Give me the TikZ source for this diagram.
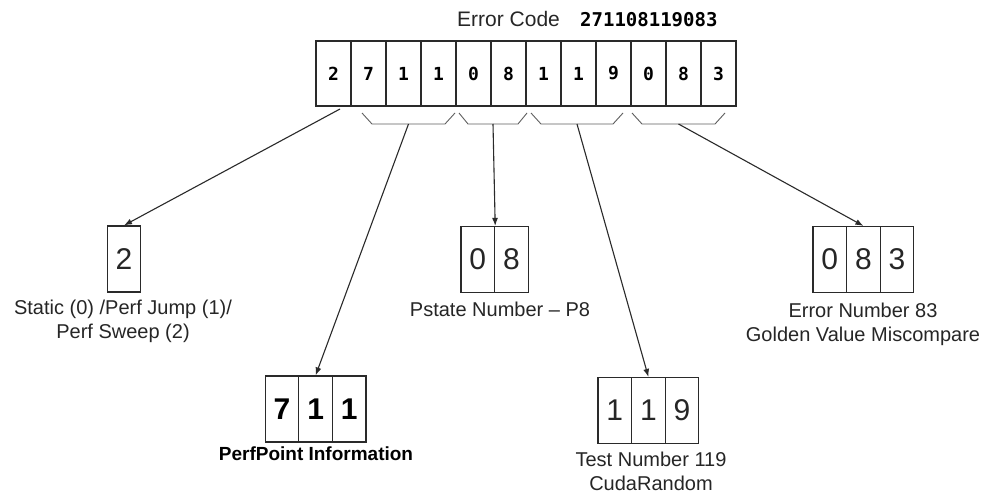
\documentclass[tikz,border=0pt]{standalone}
\usepackage{fontspec}
\setmainfont{Liberation Sans}
\newfontfamily\codefont{DejaVu Sans Mono}
\usetikzlibrary{arrows.meta}
\definecolor{linec}{HTML}{2A2A2A}
\definecolor{textc}{HTML}{262626}
\begin{document}
\begin{tikzpicture}[x=1pt,y=-1pt,
  topcell/.style={draw=linec, line width=1.2pt, minimum width=35pt, minimum height=65pt, inner sep=0pt, text=black, font=\codefont\bfseries\fontsize{18}{18}\selectfont},
  cell/.style={draw=linec, line width=1.2pt, minimum width=33.6pt, minimum height=66pt, inner sep=0pt, text=textc, font=\fontsize{30}{30}\selectfont},
  boldcell/.style={cell, font=\bfseries\fontsize{30}{30}\selectfont, text=black},
  lbl/.style={font=\fontsize{20}{24}\selectfont, align=center, text=textc, inner sep=0pt},
  conn/.style={draw=linec, line width=1.1pt, -{Latex[length=8pt,width=6pt]}},
  bracket/.style={draw=linec!75, line width=0.9pt}
]
\useasboundingbox[fill=white] (0,0) rectangle (991,495);

% title
\node[anchor=base west, inner sep=0pt, text=textc, font=\fontsize{21}{21}\selectfont] (title) at (457,27) {Error Code};
\node[anchor=base west, inner sep=0pt, text=black, font=\codefont\bfseries\fontsize{19}{19}\selectfont] (code) at (580,27) {271108119083};

% top row
\foreach \d [count=\i] in {2,7,1,1,0,8,1,1,9,0,8,3}
  \node[topcell] (c\i) at ({333.5+35*(\i-1)},73.5) {\d};

% brackets
\draw[bracket] (362,113) -- (372,124) -- (445,124) -- (455,113);
\draw[bracket] (459,113) -- (468,124) -- (518,124) -- (527,113);
\draw[bracket] (531,113) -- (541,124) -- (613,124) -- (623,113);
\draw[bracket] (632,113) -- (642,124) -- (715,124) -- (725,113);
\coordinate (br1) at (408.5,124);
\coordinate (br2) at (493,124);
\coordinate (br3) at (577,124);
\coordinate (br4) at (678.5,124);
\coordinate (s1) at (340,109);

% bottom boxes
\node[cell] (d2) at (124,259) {2};

\node[boldcell] (p1) at (282,409) {7};
\node[boldcell] (p2) at (315.6,409) {1};
\node[boldcell] (p3) at (349.2,409) {1};

\node[cell] (q1) at (477.8,259.5) {0};
\node[cell] (q2) at (511.4,259.5) {8};

\node[cell] (t1) at (614.8,410.5) {1};
\node[cell] (t2) at (648.4,410.5) {1};
\node[cell] (t3) at (682,410.5) {9};

\node[cell] (e1) at (829.8,259.5) {0};
\node[cell] (e2) at (863.4,259.5) {8};
\node[cell] (e3) at (897,259.5) {3};

% connectors
\draw[conn] (s1) -- (d2.north);
\draw[conn] (br1) -- (p2.north);
\draw[conn] (br2) -- (q1.north east);
\draw[conn] (br3) -- (t2.north);
\draw[conn] (br4) -- (e2.north);

% labels
\node[lbl, anchor=north] (l1) at (123,300) {Static (0) /Perf Jump (1)/\\Perf Sweep (2)};
\node[lbl, anchor=north, font=\bfseries\fontsize{19}{23}\selectfont, text=black] (l2) at (316,447) {PerfPoint Information};
\node[lbl, anchor=north] (l3) at (500,302) {Pstate Number -- P8};
\node[lbl, anchor=north] (l4) at (651,452) {Test Number 119\\CudaRandom};
\node[lbl, anchor=north] (l5) at (863,303) {Error Number 83\\Golden Value Miscompare};
\end{tikzpicture}
\end{document}
